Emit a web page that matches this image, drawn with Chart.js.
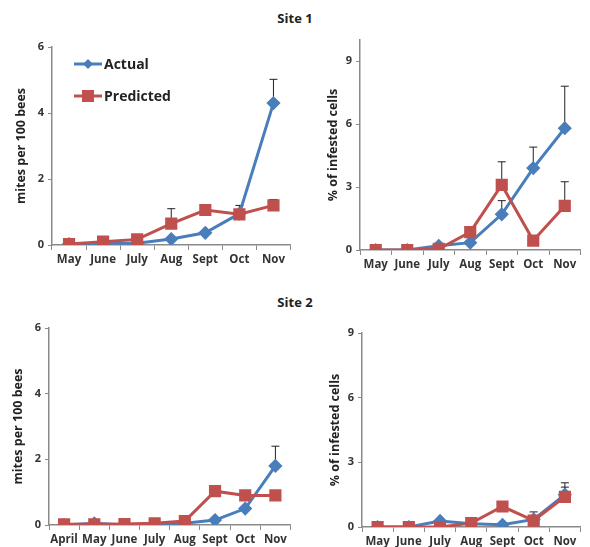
<!DOCTYPE html>
<html>
<head>
<meta charset="utf-8">
<script src="https://cdn.jsdelivr.net/npm/chart.js@4/dist/chart.umd.min.js"></script>
<style>
  body { margin: 0; background: #fff; width: 590px; height: 547px; position: relative; overflow: hidden; font-family: "Open Sans", sans-serif; }
  .box { position: absolute; }
  .title { position: absolute; width: 590px; text-align: center; font-weight: bold; font-size: 13px; color: #222; }
</style>
</head>
<body>
<div class="title" style="top:9px;">Site 1</div>
<div class="title" style="top:293px;">Site 2</div>
<div class="box" style="left:0;top:28px;width:300px;height:250px;"><canvas id="c1"></canvas></div>
<div class="box" style="left:300px;top:28px;width:290px;height:250px;"><canvas id="c2"></canvas></div>
<div class="box" style="left:0;top:300px;width:300px;height:247px;"><canvas id="c3"></canvas></div>
<div class="box" style="left:300px;top:300px;width:290px;height:247px;"><canvas id="c4"></canvas></div>
<script>
// categories
const months1 = ["May", "June", "July", "Aug", "Sept", "Oct", "Nov"];
const months2 = ["April", "May", "June", "July", "Aug", "Sept", "Oct", "Nov"];

// Site 1 - mites per 100 bees
const s1MitesActual = [0.03, 0.05, 0.05, 0.18, 0.37, 0.95, 4.3];
const s1MitesActualErr = [0, 0, 0, 0, 0, 0.25, 0.72];
const s1MitesPred = [0.03, 0.1, 0.17, 0.65, 1.06, 0.93, 1.2];
const s1MitesPredErr = [0, 0, 0, 0.45, 0, 0, 0.18];

// Site 1 - % infested cells
const s1CellsActual = [0, 0, 0.2, 0.35, 1.7, 3.9, 5.8];
const s1CellsActualErr = [0, 0, 0, 0, 0.65, 1.0, 2.0];
const s1CellsPred = [0, 0, 0.05, 0.85, 3.1, 0.45, 2.1];
const s1CellsPredErr = [0, 0, 0, 0, 1.1, 0, 1.15];

// Site 2 - mites per 100 bees
const s2MitesActual = [0, 0.05, 0, 0, 0.05, 0.15, 0.5, 1.8];
const s2MitesActualErr = [0, 0, 0, 0, 0, 0, 0, 0.6];
const s2MitesPred = [0.02, 0.02, 0.03, 0.05, 0.12, 1.03, 0.9, 0.9];
const s2MitesPredErr = [0, 0, 0, 0, 0, 0, 0, 0];

// Site 2 - % infested cells
const s2CellsActual = [0, 0, 0.28, 0.15, 0.1, 0.35, 1.5];
const s2CellsActualErr = [0, 0, 0, 0, 0, 0.35, 0.55];
const s2CellsPred = [0, 0, 0, 0.18, 0.95, 0.3, 1.4];
const s2CellsPredErr = [0, 0, 0, 0, 0, 0, 0.45];

const blue = "#4a7ebb";
const red = "#c0504d";
const axisCol = "#8a8a8a";
const textCol = "#333";
const fontFam = "'Open Sans', sans-serif";

const errorBars = {
  id: "errorBars",
  beforeDatasetsDraw(chart) {
    const ctx = chart.ctx;
    const y = chart.scales.y;
    chart.data.datasets.forEach((ds, i) => {
      const meta = chart.getDatasetMeta(i);
      (ds.errs || []).forEach((e, j) => {
        if (!e) return;
        const pt = meta.data[j];
        const top = y.getPixelForValue(ds.data[j] + e);
        ctx.save();
        ctx.strokeStyle = "#222";
        ctx.lineWidth = 1;
        ctx.beginPath();
        ctx.moveTo(pt.x, pt.y);
        ctx.lineTo(pt.x, top);
        ctx.moveTo(pt.x - 4, top);
        ctx.lineTo(pt.x + 4, top);
        ctx.stroke();
        ctx.restore();
      });
    });
  }
};

const insideLegend = {
  id: "insideLegend",
  afterDraw(chart) {
    if (!chart.options.plugins.insideLegend) return;
    const ctx = chart.ctx;
    const items = [
      { label: "Actual", color: blue, shape: "diamond", y: 36 },
      { label: "Predicted", color: red, shape: "square", y: 68 }
    ];
    items.forEach(it => {
      ctx.save();
      ctx.strokeStyle = it.color;
      ctx.fillStyle = it.color;
      ctx.lineWidth = 3;
      ctx.beginPath();
      ctx.moveTo(74, it.y);
      ctx.lineTo(102, it.y);
      ctx.stroke();
      if (it.shape === "diamond") {
        ctx.beginPath();
        ctx.moveTo(88, it.y - 5);
        ctx.lineTo(93, it.y);
        ctx.lineTo(88, it.y + 5);
        ctx.lineTo(83, it.y);
        ctx.closePath();
        ctx.fill();
      } else {
        ctx.fillRect(82, it.y - 6, 12, 12);
      }
      ctx.fillStyle = "#222";
      ctx.font = "bold 14px " + fontFam;
      ctx.textBaseline = "middle";
      ctx.fillText(it.label, 104, it.y + 1);
      ctx.restore();
    });
  }
};

function makeChart(id, labels, act, actErr, pred, predErr, opt) {
  new Chart(document.getElementById(id), {
    type: "line",
    data: {
      labels: labels,
      datasets: [
        {
          label: "Actual", data: act, errs: actErr, order: 2,
          borderColor: blue, backgroundColor: blue, borderWidth: 3,
          pointStyle: "rectRot", pointRadius: 5, pointHoverRadius: 5,
          tension: 0
        },
        {
          label: "Predicted", data: pred, errs: predErr, order: 1,
          borderColor: red, backgroundColor: red, borderWidth: 3,
          pointStyle: "rect", pointRadius: 6.5, pointHoverRadius: 6.5,
          tension: 0
        }
      ]
    },
    options: {
      responsive: true,
      maintainAspectRatio: false,
      animation: false,
      events: [],
      layout: { padding: opt.padding },
      plugins: {
        legend: { display: false },
        tooltip: { enabled: false },
        insideLegend: opt.legend || false
      },
      scales: {
        x: {
          offset: true,
          border: { display: true, color: axisCol, width: 1.5 },
          grid: { display: true, drawOnChartArea: false, drawTicks: true, tickLength: 5, color: axisCol, offset: true },
          ticks: { color: textCol, font: { family: fontFam, size: 11.5, weight: "bold" }, maxRotation: 0, autoSkip: false, padding: 3 },
          afterFit(s) { s.height = opt.xh; }
        },
        y: {
          min: 0, max: opt.max,
          border: { display: true, color: axisCol, width: 1.5 },
          grid: { display: true, drawOnChartArea: false, drawTicks: true, tickLength: 4, color: axisCol },
          ticks: { stepSize: opt.step, color: textCol, font: { family: fontFam, size: 11, weight: "bold" }, padding: 4 },
          afterBuildTicks(s) { s.ticks = opt.ticks.map(v => ({ value: v })); },
          title: { display: true, text: opt.ytitle, color: "#222", font: { family: fontFam, size: 12.5, weight: "bold" }, padding: 2 },
          afterFit(s) { s.width = opt.yw; }
        }
      }
    },
    plugins: [errorBars, insideLegend]
  });
}

makeChart("c1", months1, s1MitesActual, s1MitesActualErr, s1MitesPred, s1MitesPredErr,
  { max: 6, step: 2, ticks: [0, 2, 4, 6], ytitle: "mites per 100 bees", yw: 40, xh: 33,
    padding: { top: 19, right: 5, left: 12, bottom: 0 }, legend: true });
makeChart("c2", months1, s1CellsActual, s1CellsActualErr, s1CellsPred, s1CellsPredErr,
  { max: 10, step: 3, ticks: [0, 3, 6, 9], ytitle: "% of infested cells", yw: 36, xh: 28,
    padding: { top: 12, right: 0, left: 24, bottom: 0 } });
makeChart("c3", months2, s2MitesActual, s2MitesActualErr, s2MitesPred, s2MitesPredErr,
  { max: 6, step: 2, ticks: [0, 2, 4, 6], ytitle: "mites per 100 bees", yw: 40, xh: 22,
    padding: { top: 28, right: 5, left: 9, bottom: 0 } });
makeChart("c4", months1, s2CellsActual, s2CellsActualErr, s2CellsPred, s2CellsPredErr,
  { max: 9, step: 3, ticks: [0, 3, 6, 9], ytitle: "% of infested cells", yw: 36, xh: 20,
    padding: { top: 33, right: 0, left: 26, bottom: 0 } });
</script>
</body>
</html>
